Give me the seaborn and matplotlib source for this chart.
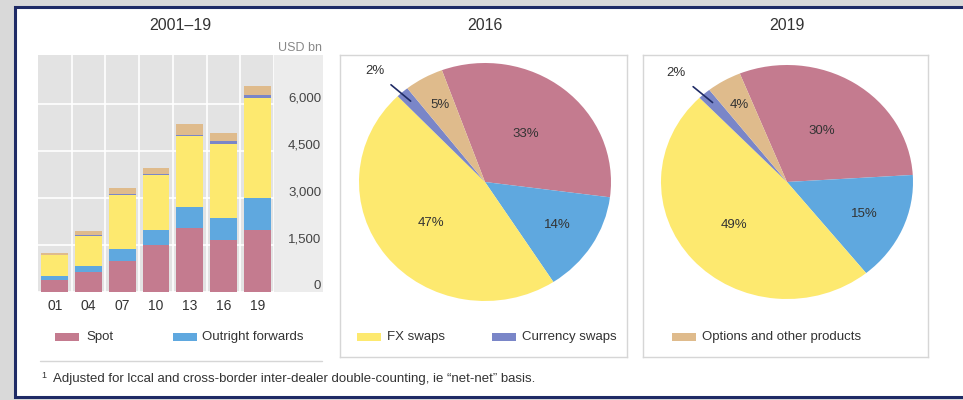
import numpy as np
import pandas as pd
import matplotlib
matplotlib.use("Agg")
import matplotlib.pyplot as plt
from matplotlib.patches import Rectangle
import seaborn as sns

# data (USD bn, net-net basis)
years = ["01", "04", "07", "10", "13", "16", "19"]
products = ["Spot", "Outright forwards", "FX swaps", "Currency swaps", "Options and other products"]
spot = [386, 631, 1005, 1489, 2047, 1652, 1987]
outright = [130, 209, 362, 475, 679, 700, 999]
fx_swaps = [656, 954, 1714, 1759, 2240, 2378, 3202]
ccy_swaps = [7, 21, 31, 43, 54, 82, 108]
options = [60, 119, 212, 207, 337, 254, 294]
pie_years = ["2016", "2019"]
yticks = [0, 1500, 3000, 4500, 6000]

colors = ["#c47b8f", "#5fa8df", "#fde96f", "#7a86c8", "#dfbb8c"]
text_col = "#333333"

sns.set_theme(style="white")
plt.rcParams["font.family"] = ["Liberation Sans", "DejaVu Sans"]

W, H = 963, 400
fig = plt.figure(figsize=(W / 100, H / 100), dpi=100)
fig.patch.set_facecolor("#d9d9d9")


def fx(px):
    return px / W


def fy(py):
    return 1 - py / H


def box(x0, y0, x1, y1):
    return [fx(x0), fy(y1), (x1 - x0) / W, (y1 - y0) / H]


# outer frame
fig.patches.append(Rectangle((fx(15), fy(397)), (W + 5 - 15) / W, (397 - 7) / H,
                             transform=fig.transFigure, facecolor="white",
                             edgecolor="#1f2b66", lw=2.2, zorder=-2))
# light column behind the y labels
fig.patches.append(Rectangle((fx(274), fy(292)), 49 / W, 237 / H,
                             transform=fig.transFigure, facecolor="#ececec",
                             edgecolor="none", zorder=-1))

# ---- stacked bars ----
df = pd.DataFrame({"year": years, "Spot": spot, "Outright forwards": outright,
                   "FX swaps": fx_swaps, "Currency swaps": ccy_swaps,
                   "Options and other products": options})
cum = df[products].cumsum(axis=1)

ax = fig.add_axes(box(38, 55, 274, 292), zorder=1)
ax.set_facecolor("#e3e3e3")
for i in range(len(products) - 1, -1, -1):
    sns.barplot(x=df["year"], y=cum[products[i]], color=colors[i], width=0.8,
                saturation=1, ax=ax, zorder=3, edgecolor="none", linewidth=0)
ax.set_xlabel("")
ax.set_ylabel("")
ax.set_ylim(0, 7564)
ax.set_xlim(-0.5, len(years) - 0.5)
ax.set_yticks(yticks)
ax.set_yticklabels([f"{v:,}" for v in yticks])
ax.yaxis.tick_right()
ax.tick_params(axis="y", length=0, pad=34, labelsize=9.5, labelcolor="#444444")
ax.tick_params(axis="x", length=0, pad=5, labelsize=10, labelcolor=text_col)
for t in ax.get_yticklabels():
    t.set_ha("right")
    t.set_va("bottom")
ax.set_xticks(np.arange(len(years)) + 0.5, minor=True)
ax.tick_params(axis="x", which="minor", length=0)
ax.grid(axis="y", color="white", lw=1.2, zorder=1)
ax.grid(axis="x", which="minor", color="white", lw=1.2, zorder=1)
ax.grid(axis="x", which="major", visible=False)
for s in ax.spines.values():
    s.set_visible(False)
ax.set_axisbelow(True)

fig.text(fx(180), fy(26), "2001–19", ha="center", va="center", fontsize=11.5, color=text_col)
fig.text(fx(322), fy(48), "USD bn", ha="right", va="center", fontsize=9, color="#888888")

# ---- pies ----
pie_boxes = [(340, 55, 627, 357), (643, 55, 928, 357)]
centres = [(485, 182), (787, 182)]
radii = [(126, 119), (126, 117)]
start = [110, 112]
label_r = [[0.52, 0.68, 0.55, None, 0.74], [0.52, 0.67, 0.56, None, 0.76]]

for k, yr in enumerate(pie_years):
    idx = years.index(yr[2:])
    vals = np.array([spot[idx], outright[idx], fx_swaps[idx], ccy_swaps[idx], options[idx]], float)
    x0, y0, x1, y1 = pie_boxes[k]
    cx, cy = centres[k]
    rx, ry = radii[k]
    pax = fig.add_axes(box(x0, y0, x1, y1), zorder=1)
    wedges, _ = pax.pie(vals, colors=colors, startangle=start[k], counterclock=False,
                        wedgeprops=dict(linewidth=0))
    pax.set_aspect("auto")
    pax.set_xlim((x0 - cx) / rx, (x1 - cx) / rx)
    pax.set_ylim(-(y1 - cy) / ry, (cy - y0) / ry)
    pax.set_frame_on(True)
    pax.patch.set_alpha(0)
    for s in pax.spines.values():
        s.set_color("#d6d6d6")
        s.set_linewidth(1)
    shares = vals / vals.sum() * 100
    for w, pct, r in zip(wedges, shares, label_r[k]):
        ang = np.deg2rad((w.theta1 + w.theta2) / 2)
        lab = f"{pct:.0f}%"
        if r is None:
            pax.annotate(lab, xy=(0.9 * np.cos(ang), 0.9 * np.sin(ang)),
                         xytext=(1.28 * np.cos(ang + 0.04), 1.28 * np.sin(ang + 0.04)),
                         ha="center", va="center", fontsize=9.5, color=text_col,
                         arrowprops=dict(arrowstyle="-", color="#1f2b66", lw=1.2,
                                         shrinkA=5, shrinkB=0))
        else:
            pax.text(r * np.cos(ang), r * np.sin(ang), lab, ha="center", va="center",
                     fontsize=9.5, color=text_col)
    fig.text(fx(cx), fy(25), yr, ha="center", va="center", fontsize=11.5, color=text_col)

# ---- legend ----
leg_pos = [(55, 86), (173, 202), (357, 387), (492, 522), (672, 702)]
for (px, tx), name, c in zip(leg_pos, products, colors):
    fig.patches.append(Rectangle((fx(px), fy(341)), 24 / W, 8 / H,
                                 transform=fig.transFigure, facecolor=c,
                                 edgecolor="none", zorder=3))
    fig.text(fx(tx), fy(337), name, ha="left", va="center", fontsize=9.5, color=text_col)

fig.add_artist(plt.Line2D([fx(40), fx(322)], [fy(361), fy(361)], color="#d6d6d6", lw=1))

fig.text(fx(41), fy(375), "1", ha="left", va="center", fontsize=6.5, color=text_col)
fig.text(fx(53), fy(379),
         "Adjusted for lccal and cross-border inter-dealer double-counting, ie \u201cnet-net\u201d basis.",
         ha="left", va="center", fontsize=9.5, color=text_col)

fig.savefig("out.png", dpi=100, facecolor=fig.get_facecolor())
